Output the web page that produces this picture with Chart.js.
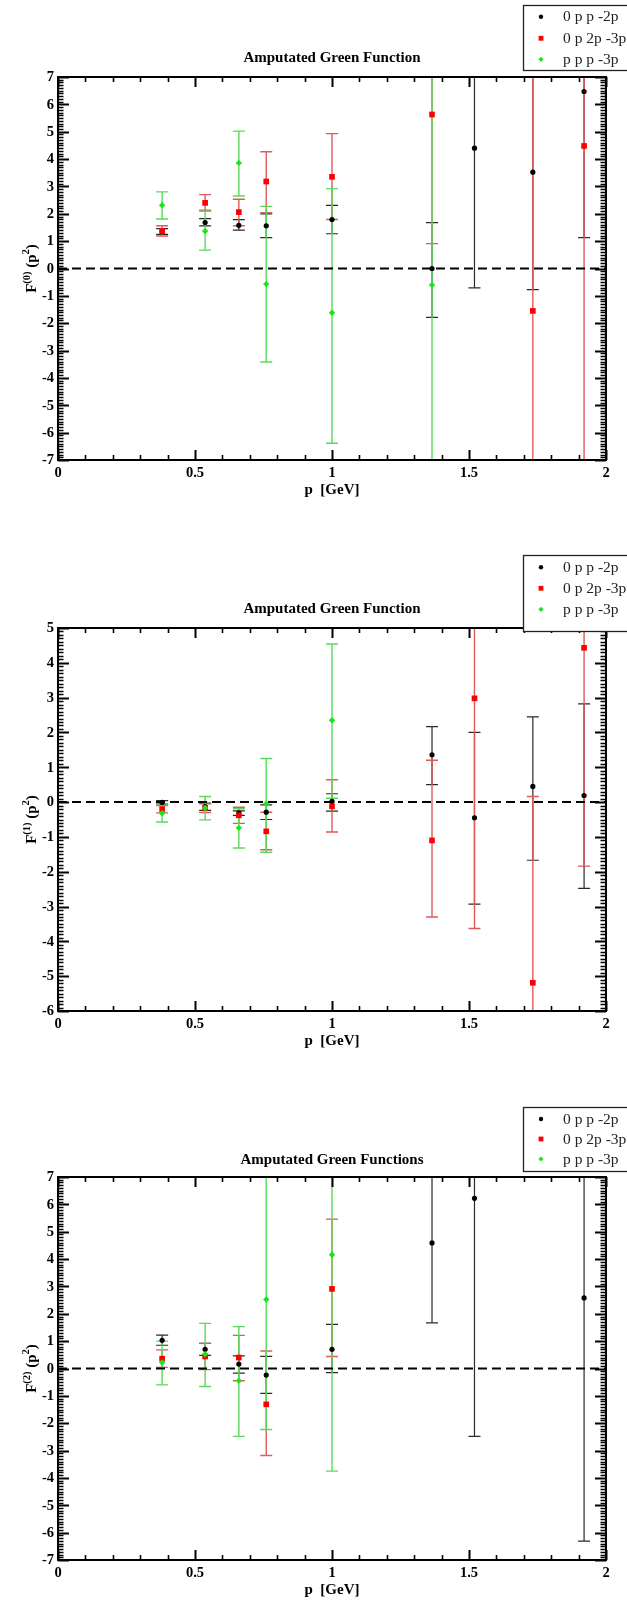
<!DOCTYPE html>
<html><head><meta charset="utf-8">
<script src="https://cdn.jsdelivr.net/npm/chart.js@4.4.0/dist/chart.umd.min.js"></script>
<style>
html,body{margin:0;padding:0;background:#fff;overflow:hidden;width:627px;height:1602px;}
.panel{position:absolute;left:0;width:627px;}
canvas{display:block;}
</style></head><body>
<div class="panel" style="top:0;height:550px"><canvas id="c0" width="627" height="550"></canvas></div>
<div class="panel" style="top:551px;height:550px"><canvas id="c1" width="627" height="550"></canvas></div>
<div class="panel" style="top:1100px;height:502px"><canvas id="c2" width="627" height="502"></canvas></div>
<script>
// ---------------- DATA ----------------
const momenta = [0.38, 0.537, 0.66, 0.76, 1.0, 1.365, 1.52, 1.733, 1.92];
const seriesNames = ['0 p p -2p', '0 p 2p -3p', 'p p p -3p'];
const xTickValues = [0, 0.5, 1, 1.5, 2];
const xTickLabels = ['0', '0.5', '1', '1.5', '2'];
const yTicks0 = [-7, -6, -5, -4, -3, -2, -1, 0, 1, 2, 3, 4, 5, 6, 7];
const yTicks1 = [-6, -5, -4, -3, -2, -1, 0, 1, 2, 3, 4, 5];
const yTicks2 = [-7, -6, -5, -4, -3, -2, -1, 0, 1, 2, 3, 4, 5, 6, 7];
const titles = ['Amputated Green Function', 'Amputated Green Function', 'Amputated Green Functions'];
const xAxisTitle = 'p  [GeV]';
const yAxisSup = ['(0)', '(1)', '(2)'];

// F(0)
const f0Black   = [1.35, 1.68, 1.58, 1.56, 1.79, 0.00, 4.40, 3.52, 6.47];
const f0BlackLo = [1.25, 1.56, 1.40, 1.13, 1.27, -1.79, -0.71, -0.77, 1.13];
const f0BlackHi = [1.46, 1.82, 1.79, 2.00, 2.31, 1.68, 9.51, 7.81, 11.81];
const f0Red     = [1.37, 2.40, 2.06, 3.18, 3.35, 5.63, null, -1.55, 4.48];
const f0RedLo   = [1.19, 2.13, 1.56, 2.04, 1.79, 0.91, null, -10.55, -7.52];
const f0RedHi   = [1.56, 2.70, 2.53, 4.27, 4.93, 10.35, null, 7.45, 16.48];
const f0Green   = [2.31, 1.37, 3.86, -0.57, -1.62, -0.60, null, null, null];
const f0GreenLo = [1.81, 0.67, 2.65, -3.42, -6.39, -9.10, null, null, null];
const f0GreenHi = [2.80, 2.09, 5.02, 2.27, 2.92, 7.90, null, null, null];

// F(1)
const f1Black   = [-0.01, -0.13, -0.31, -0.29, 0.02, 1.36, -0.45, 0.45, 0.19];
const f1BlackLo = [-0.06, -0.24, -0.38, -0.50, -0.26, 0.50, -2.93, -1.67, -2.48];
const f1BlackHi = [0.04, -0.03, -0.25, -0.08, 0.24, 2.17, 2.00, 2.45, 2.82];
const f1Red     = [-0.20, -0.17, -0.38, -0.84, -0.12, -1.10, 2.98, -5.19, 4.43];
const f1RedLo   = [-0.31, -0.30, -0.61, -1.37, -0.86, -3.30, -3.63, -10.54, -1.84];
const f1RedHi   = [-0.10, -0.05, -0.15, -0.29, 0.64, 1.20, 9.59, 0.16, 10.70];
const f1Green   = [-0.32, -0.17, -0.74, -0.05, 2.35, null, null, null, null];
const f1GreenLo = [-0.57, -0.51, -1.32, -1.44, 0.11, null, null, null, null];
const f1GreenHi = [-0.08, 0.16, -0.19, 1.25, 4.54, null, null, null, null];

// F(2)
const f2Black   = [1.03, 0.70, 0.16, -0.24, 0.70, 4.59, 6.22, null, 2.58];
const f2BlackLo = [0.85, 0.48, -0.17, -0.91, -0.15, 1.67, -2.48, null, -6.31];
const f2BlackHi = [1.22, 0.92, 0.46, 0.44, 1.61, 7.51, 14.92, null, 11.47];
const f2Red     = [0.36, 0.44, 0.40, -1.31, 2.91, null, null, null, null];
const f2RedLo   = [0.04, -0.04, -0.45, -3.18, 0.44, null, null, null, null];
const f2RedHi   = [0.68, 0.92, 1.21, 0.64, 5.46, null, null, null, null];
const f2Green   = [0.22, 0.52, -0.45, 2.52, 4.16, null, null, null, null];
const f2GreenLo = [-0.60, -0.66, -2.48, -2.23, -3.75, null, null, null, null];
const f2GreenHi = [1.00, 1.65, 1.53, 7.27, 12.07, null, null, null, null];

const zeroLineX = [0, 2];
const zeroLineY = [0, 0];

// ---------------- STYLE ----------------
const SERIF = '"Liberation Serif", "Times New Roman", serif';
const styles = [
  {pointStyle:'circle', radius:2.6, color:'#000000', err:'#2a2a2a', errW:1.2},
  {pointStyle:'rect', radius:4.0, color:'#ff0000', err:'#e05a5a', errW:1.4},
  {pointStyle:'rectRot', radius:3.2, color:'#19e619', err:'#5ada5a', errW:1.4}
];

const panels = [
  {id:'c0', h:550, yMin:-7, yMax:7, yTicks:yTicks0, title:titles[0], sup:yAxisSup[0],
   titleY:58, legTop:5, legBot:70, rows:[16.7,38.3,59.3],
   series:[[f0Black,f0BlackLo,f0BlackHi],[f0Red,f0RedLo,f0RedHi],[f0Green,f0GreenLo,f0GreenHi]]},
  {id:'c1', h:550, yMin:-6, yMax:5, yTicks:yTicks1, title:titles[1], sup:yAxisSup[1],
   titleY:58, legTop:4, legBot:80, rows:[16.3,37.3,58.3],
   series:[[f1Black,f1BlackLo,f1BlackHi],[f1Red,f1RedLo,f1RedHi],[f1Green,f1GreenLo,f1GreenHi]]},
  {id:'c2', h:502, yMin:-7, yMax:7, yTicks:yTicks2, title:titles[2], sup:yAxisSup[2],
   titleY:60, legTop:7, legBot:71, rows:[19,39,59],
   series:[[f2Black,f2BlackLo,f2BlackHi],[f2Red,f2RedLo,f2RedHi],[f2Green,f2GreenLo,f2GreenHi]]}
];

function drawMarker(ctx, style, x, y, r) {
  ctx.fillStyle = style.color;
  ctx.beginPath();
  if (style.pointStyle === 'circle') { ctx.arc(x, y, r, 0, Math.PI*2); }
  else if (style.pointStyle === 'rect') { const s = r*Math.SQRT1_2; ctx.rect(x-s, y-s, 2*s, 2*s); }
  else { ctx.moveTo(x, y-r); ctx.lineTo(x+r, y); ctx.lineTo(x, y+r); ctx.lineTo(x-r, y); ctx.closePath(); }
  ctx.fill();
}

function decoPlugin(p) {
  return {
    id: 'deco_' + p.id,
    beforeDatasetsDraw(chart) {
      const ctx = chart.ctx, xs = chart.scales.x, ys = chart.scales.y, a = chart.chartArea;
      ctx.save();
      ctx.beginPath(); ctx.rect(a.left, a.top, a.right - a.left, a.bottom - a.top); ctx.clip();
      chart.data.datasets.forEach(ds => {
        if (!ds.errColor) return;
        ctx.strokeStyle = ds.errColor; ctx.lineWidth = ds.errWidth;
        ds.data.forEach(d => {
          const px = xs.getPixelForValue(d.x);
          const pl = ys.getPixelForValue(d.lo), ph = ys.getPixelForValue(d.hi);
          ctx.beginPath();
          ctx.moveTo(px, pl); ctx.lineTo(px, ph);
          ctx.moveTo(px - 6, pl); ctx.lineTo(px + 6, pl);
          ctx.moveTo(px - 6, ph); ctx.lineTo(px + 6, ph);
          ctx.stroke();
        });
      });
      ctx.restore();
    },
    afterDraw(chart) {
      const ctx = chart.ctx, xs = chart.scales.x, ys = chart.scales.y, a = chart.chartArea;
      ctx.save();
      // ticks (inward, all four sides)
      ctx.strokeStyle = '#000';
      const xMin = xs.min, xMax = xs.max;
      const nx = Math.round((xMax - xMin) * 10);
      for (let k = 0; k <= nx; k++) {
        const v = xMin + k / 10;
        const px = Math.round(xs.getPixelForValue(v)) + 0.5;
        const major = k % 5 === 0;
        const len = major ? 10 : 5;
        ctx.lineWidth = major ? 2 : 1.6;
        ctx.beginPath();
        ctx.moveTo(px, a.bottom); ctx.lineTo(px, a.bottom - len);
        ctx.moveTo(px, a.top); ctx.lineTo(px, a.top + len);
        ctx.stroke();
      }
      const ny = Math.round((ys.max - ys.min) * 10);
      for (let k = 0; k <= ny; k++) {
        const v = ys.min + k / 10;
        const py = Math.round(ys.getPixelForValue(v)) + 0.5;
        const major = k % 10 === 0;
        const len = major ? 11 : 5.5;
        ctx.lineWidth = major ? 2 : 1.4;
        ctx.beginPath();
        ctx.moveTo(a.left, py); ctx.lineTo(a.left + len, py);
        ctx.moveTo(a.right, py); ctx.lineTo(a.right - len, py);
        ctx.stroke();
      }
      // frame
      ctx.lineWidth = 2;
      ctx.strokeRect(a.left, a.top, a.right - a.left, a.bottom - a.top);
      // tick labels
      ctx.fillStyle = '#000';
      ctx.font = 'bold 14.5px ' + SERIF;
      ctx.textAlign = 'center'; ctx.textBaseline = 'middle';
      xTickValues.forEach((v, i) => ctx.fillText(xTickLabels[i], xs.getPixelForValue(v), a.bottom + 13.5));
      ctx.textAlign = 'right';
      p.yTicks.forEach(v => ctx.fillText(String(v), a.left - 4, ys.getPixelForValue(v) + 0.5));
      // axis title x
      ctx.textAlign = 'center';
      ctx.font = 'bold 15px ' + SERIF;
      ctx.fillText(xAxisTitle, (a.left + a.right) / 2, a.bottom + 30);
      // chart title
      ctx.fillText(p.title, (a.left + a.right) / 2, p.titleY);
      // y axis title with superscripts
      ctx.save();
      ctx.translate(36, (a.top + a.bottom) / 2);
      ctx.rotate(-Math.PI / 2);
      ctx.textAlign = 'left'; ctx.textBaseline = 'alphabetic';
      const main = 'bold 15px ' + SERIF, sm = 'bold 10.5px ' + SERIF;
      const parts = [['F', main, 0], [p.sup, sm, -6.5], [' (p', main, 0], ['2', sm, -7], [')', main, 0]];
      let W = 0;
      parts.forEach(q => { ctx.font = q[1]; W += ctx.measureText(q[0]).width; });
      let x = -W / 2;
      parts.forEach(q => { ctx.font = q[1]; ctx.fillText(q[0], x, q[2]); x += ctx.measureText(q[0]).width; });
      ctx.restore();
      // legend
      ctx.fillStyle = '#fff';
      ctx.fillRect(523.5, p.legTop, 120, p.legBot - p.legTop);
      ctx.lineWidth = 1.3; ctx.strokeStyle = '#222';
      ctx.strokeRect(523.5, p.legTop + 0.5, 120, p.legBot - p.legTop);
      ctx.font = '15.5px ' + SERIF;
      ctx.textAlign = 'left'; ctx.textBaseline = 'middle';
      seriesNames.forEach((name, i) => {
        const st = styles[i];
        drawMarker(ctx, st, 541, p.rows[i], i === 0 ? 2.2 : (i === 1 ? 3.4 : 2.6));
        ctx.fillStyle = '#222';
        ctx.fillText(name, 563, p.rows[i] + 0.5);
      });
      ctx.restore();
    }
  };
}

panels.forEach(p => {
  const datasets = p.series.map((s, i) => {
    const [val, lo, hi] = s;
    const pts = [];
    momenta.forEach((x, j) => { if (val[j] !== null) pts.push({x: x, y: val[j], lo: lo[j], hi: hi[j]}); });
    const st = styles[i];
    return {
      type: 'scatter', label: seriesNames[i], data: pts,
      pointStyle: st.pointStyle, pointRadius: st.radius, pointHoverRadius: st.radius,
      backgroundColor: st.color, borderColor: st.color, pointBorderWidth: 0, borderWidth: 0,
      errColor: st.err, errWidth: st.errW, order: 3 - i
    };
  });
  datasets.push({
    type: 'line', label: 'zero', data: zeroLineX.map((x, i) => ({x: x, y: zeroLineY[i]})),
    borderColor: '#000', borderWidth: 2, borderDash: [9, 5], pointRadius: 0, fill: false, order: 10
  });
  new Chart(document.getElementById(p.id), {
    type: 'scatter',
    data: {datasets: datasets},
    options: {
      responsive: false, animation: false, devicePixelRatio: 1,
      layout: {padding: {left: 58, right: 21, top: 77, bottom: p.h - 460}},
      plugins: {legend: {display: false}, tooltip: {enabled: false}, title: {display: false}},
      scales: {
        x: {type: 'linear', min: 0, max: 2, display: false},
        y: {type: 'linear', min: p.yMin, max: p.yMax, display: false}
      }
    },
    plugins: [decoPlugin(p)]
  });
});
</script>
</body></html>
